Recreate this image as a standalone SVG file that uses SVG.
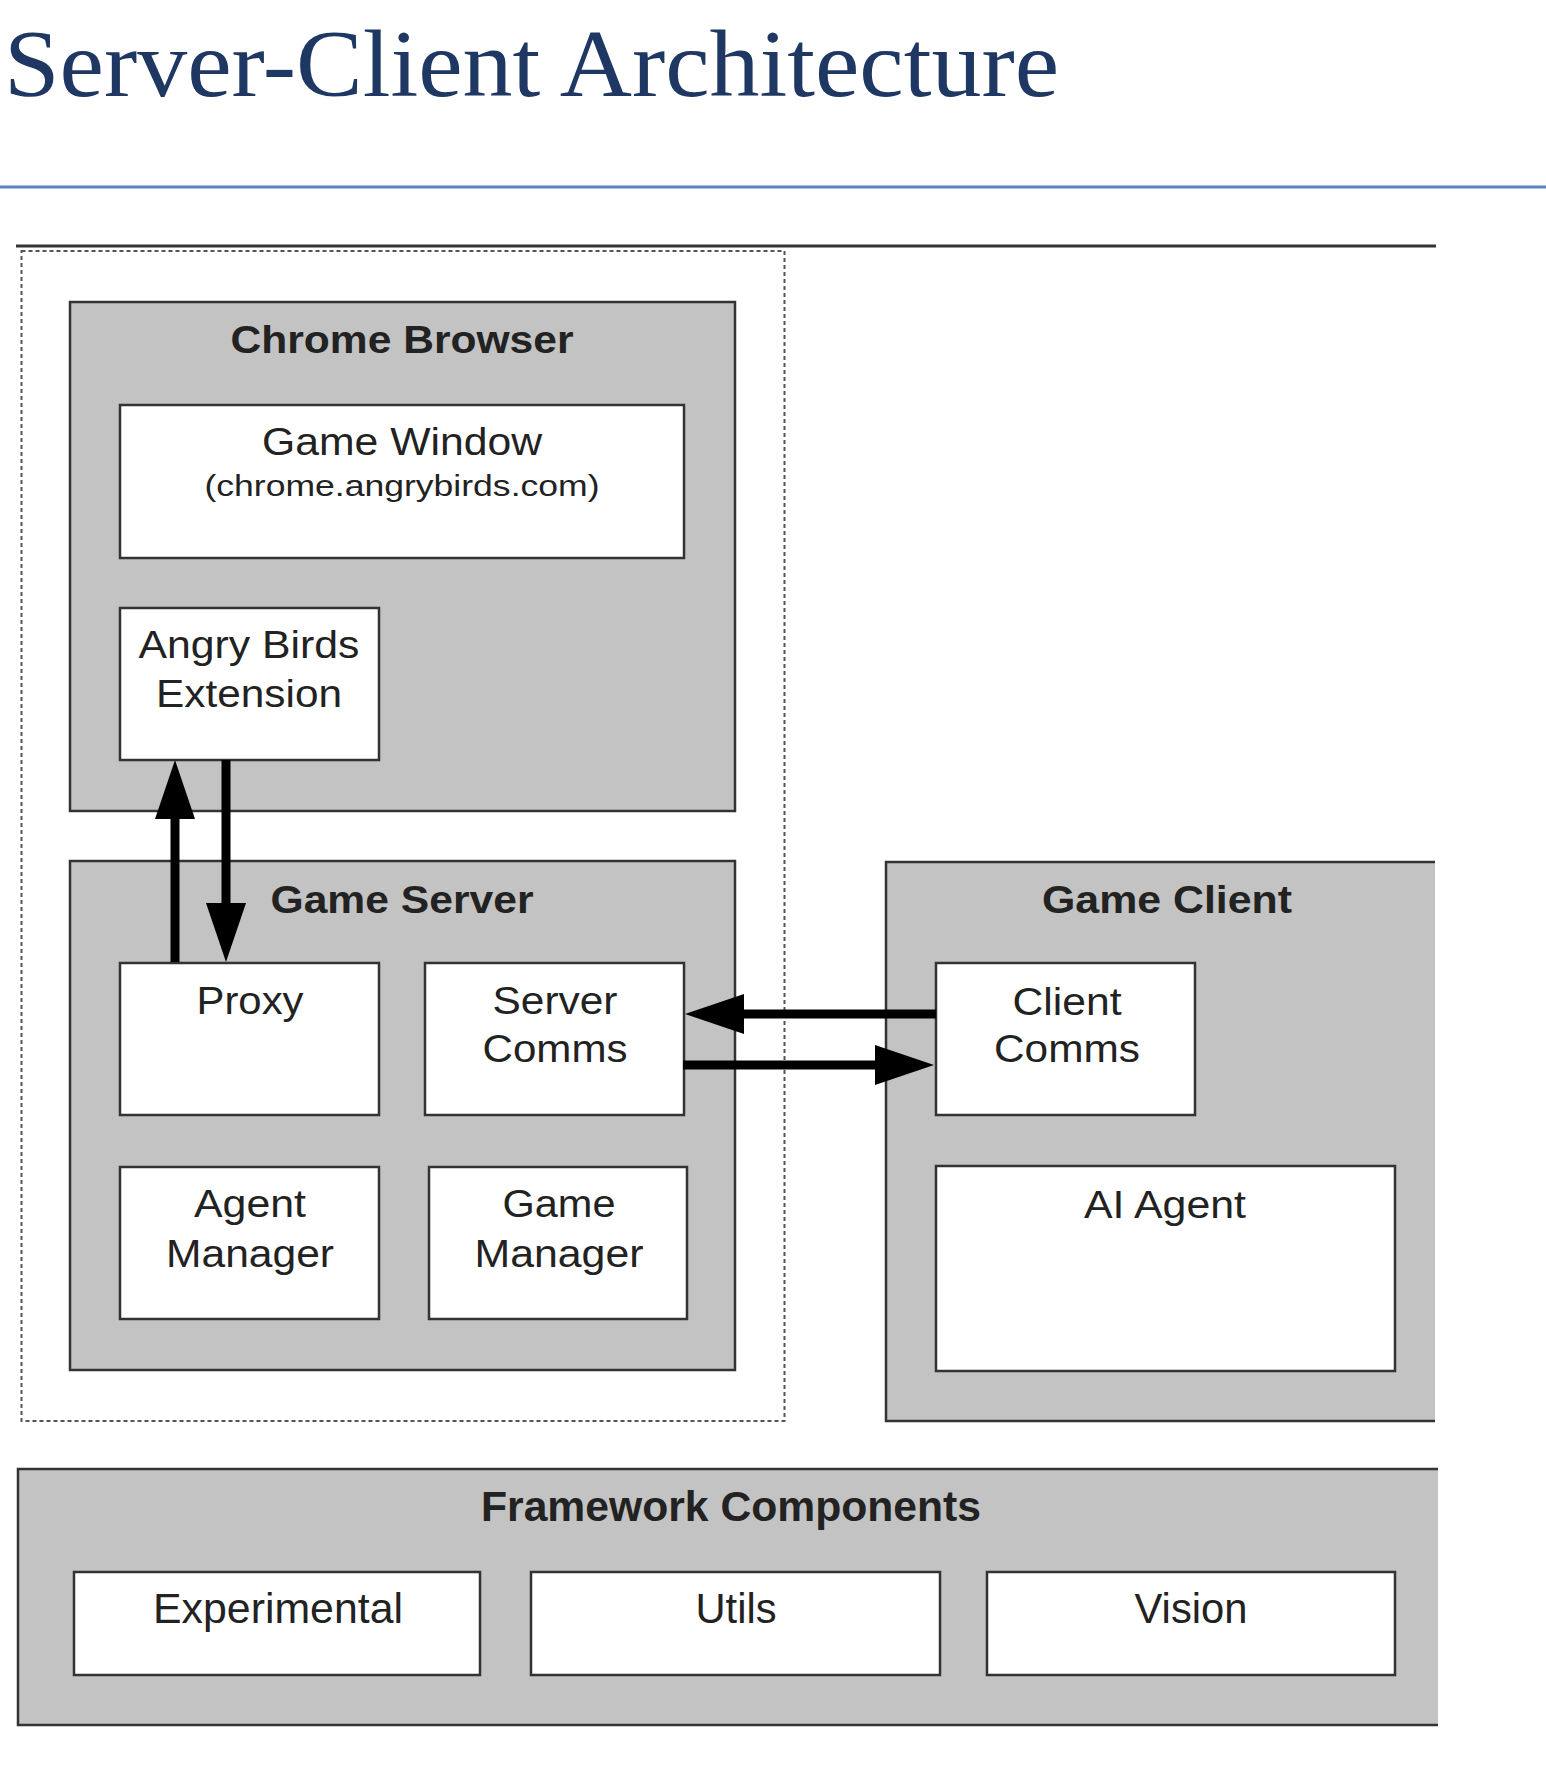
<svg xmlns="http://www.w3.org/2000/svg" width="1546" height="1790" viewBox="0 0 1546 1790">
<style>
.bg{fill:#ffffff}
.grp{fill:#c3c3c3;stroke:#333333;stroke-width:2.5}
.grpfill{fill:#c3c3c3;stroke:none}
.edge{fill:none;stroke:#333333;stroke-width:2.5}
.box{fill:#ffffff;stroke:#333333;stroke-width:2.5}
.t{font-family:"Liberation Sans",Arial,sans-serif;font-size:38px;fill:#222222;text-anchor:middle}
.ts{font-size:29px}
.tb{font-weight:bold;font-size:38.5px}
.tf{font-size:42px}
.conn{stroke:#000000;stroke-width:9;fill:none;marker-end:url(#ah)}
</style>
<defs>
<marker id="ah" viewBox="0 0 59 40" markerWidth="59" markerHeight="40" refX="0" refY="20" orient="auto" markerUnits="userSpaceOnUse">
<path d="M0,0 L59,20 L0,40 Z" fill="#000000"/>
</marker>
</defs>
<rect class="bg" x="0" y="0" width="1546" height="1790"/>

<g id="heading">
<text x="4" y="96" font-family="'Liberation Serif','DejaVu Serif',serif" font-size="96" fill="#1f3763" textLength="1055" lengthAdjust="spacingAndGlyphs">Server-Client Architecture</text>
<line x1="0" y1="187" x2="1546" y2="187" stroke="#5b84c0" stroke-width="3"/>
</g>

<g id="frame">
<line x1="16" y1="246" x2="1436" y2="246" stroke="#333333" stroke-width="3"/>
<rect x="21.5" y="251" width="763" height="1170" fill="none" stroke="#555555" stroke-width="2" stroke-dasharray="4 3"/>
</g>

<g id="chrome-browser">
<rect class="grp" x="70" y="302" width="665" height="509"/>
<text class="t tb" x="402" y="353" textLength="343" lengthAdjust="spacingAndGlyphs">Chrome Browser</text>
</g>
<g id="game-window">
<rect class="box" x="120" y="405" width="564" height="153"/>
<text class="t" x="402" y="455" textLength="280" lengthAdjust="spacingAndGlyphs">Game Window</text>
<text class="t ts" x="402" y="496" textLength="395" lengthAdjust="spacingAndGlyphs">(chrome.angrybirds.com)</text>
</g>
<g id="angry-birds-extension">
<rect class="box" x="120" y="608" width="259" height="152"/>
<text class="t" x="249" y="658" textLength="221" lengthAdjust="spacingAndGlyphs">Angry Birds</text>
<text class="t" x="249" y="707" textLength="186" lengthAdjust="spacingAndGlyphs">Extension</text>
</g>

<g id="game-server">
<rect class="grp" x="70" y="861" width="665" height="509"/>
<text class="t tb" x="402" y="913" textLength="263" lengthAdjust="spacingAndGlyphs">Game Server</text>
</g>
<g id="proxy">
<rect class="box" x="120" y="963" width="259" height="152"/>
<text class="t" x="250" y="1014" textLength="107" lengthAdjust="spacingAndGlyphs">Proxy</text>
</g>
<g id="server-comms">
<rect class="box" x="425" y="963" width="259" height="152"/>
<text class="t" x="555" y="1014" textLength="125" lengthAdjust="spacingAndGlyphs">Server</text>
<text class="t" x="555" y="1062" textLength="145" lengthAdjust="spacingAndGlyphs">Comms</text>
</g>
<g id="agent-manager">
<rect class="box" x="120" y="1167" width="259" height="152"/>
<text class="t" x="250" y="1217" textLength="112" lengthAdjust="spacingAndGlyphs">Agent</text>
<text class="t" x="250" y="1267" textLength="168" lengthAdjust="spacingAndGlyphs">Manager</text>
</g>
<g id="game-manager">
<rect class="box" x="429" y="1167" width="258" height="152"/>
<text class="t" x="559" y="1217" textLength="113" lengthAdjust="spacingAndGlyphs">Game</text>
<text class="t" x="559" y="1267" textLength="169" lengthAdjust="spacingAndGlyphs">Manager</text>
</g>

<g id="game-client">
<rect class="grpfill" x="886" y="862" width="549" height="559"/>
<path class="edge" d="M1435,862 L886,862 L886,1421 L1435,1421"/>
<text class="t tb" x="1167" y="913" textLength="250" lengthAdjust="spacingAndGlyphs">Game Client</text>
</g>
<g id="client-comms">
<rect class="box" x="936" y="963" width="259" height="152"/>
<text class="t" x="1067" y="1015" textLength="109" lengthAdjust="spacingAndGlyphs">Client</text>
<text class="t" x="1067" y="1062" textLength="146" lengthAdjust="spacingAndGlyphs">Comms</text>
</g>
<g id="ai-agent">
<rect class="box" x="936" y="1166" width="459" height="205"/>
<text class="t" x="1165" y="1218" textLength="162" lengthAdjust="spacingAndGlyphs">AI Agent</text>
</g>

<g id="framework-components">
<rect class="grpfill" x="18" y="1469" width="1420" height="256"/>
<path class="edge" d="M1438,1469 L18,1469 L18,1725 L1438,1725"/>
<text class="t tb tf" x="731" y="1521" textLength="500" lengthAdjust="spacingAndGlyphs">Framework Components</text>
</g>
<g id="experimental">
<rect class="box" x="74" y="1572" width="406" height="103"/>
<text class="t tf" x="278" y="1623" textLength="250" lengthAdjust="spacingAndGlyphs">Experimental</text>
</g>
<g id="utils">
<rect class="box" x="531" y="1572" width="409" height="103"/>
<text class="t tf" x="736" y="1623" textLength="81" lengthAdjust="spacingAndGlyphs">Utils</text>
</g>
<g id="vision">
<rect class="box" x="987" y="1572" width="408" height="103"/>
<text class="t tf" x="1191" y="1623" textLength="113" lengthAdjust="spacingAndGlyphs">Vision</text>
</g>

<g id="connectors">
<line class="conn" x1="175" y1="962" x2="175" y2="819"/>
<line class="conn" x1="226" y1="760" x2="226" y2="903"/>
<line class="conn" x1="936" y1="1014" x2="744" y2="1014"/>
<line class="conn" x1="683" y1="1065" x2="875" y2="1065"/>
</g>
</svg>
